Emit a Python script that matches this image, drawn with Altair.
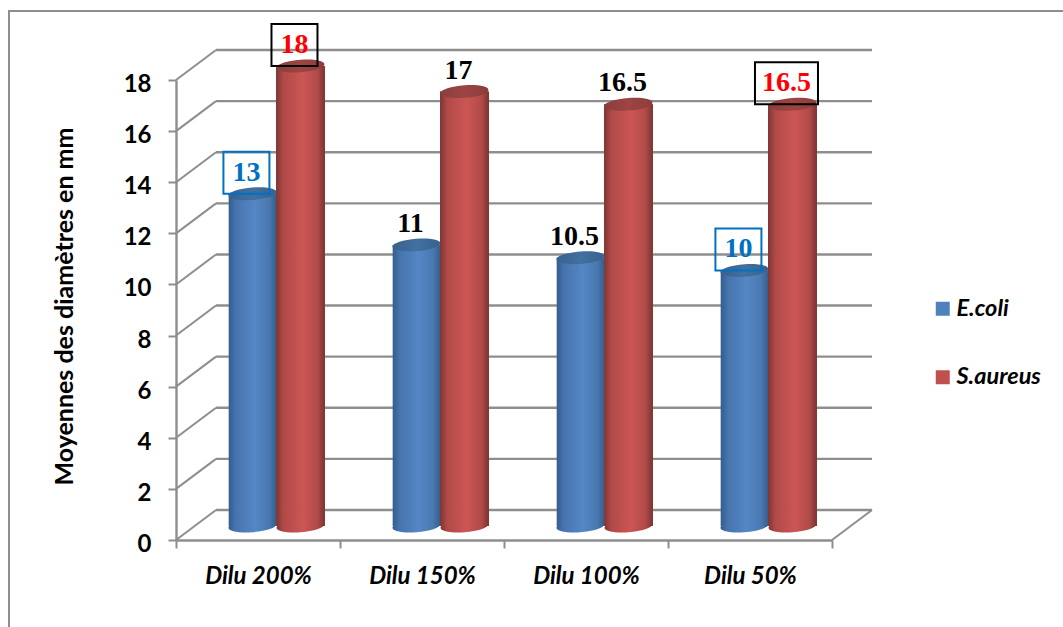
import altair as alt
import pandas as pd

# Chart values
categories = ["Dilu 200%", "Dilu 150%", "Dilu 100%", "Dilu 50%"]
ecoli = [13, 11, 10.5, 10]
saureus = [18, 17, 16.5, 16.5]
ecoli_boxed = [True, False, False, True]
saureus_boxed = [True, False, False, True]
y_ticks = [0, 2, 4, 6, 8, 10, 12, 14, 16, 18]

# Pixel scale of the plot frame
PX_X = 164.0     # pixels per category
PX_Y = 460 / 18  # pixels per mm
DEPTH_X = 40 / PX_X
DEPTH_Y = 30 / PX_Y
LIFT = 14 / PX_Y
BLUE = (0.322, 0.61)
RED = (0.61, 0.908)
FRAME = ((9 - 176) / PX_X, (1100 - 176) / PX_X, (540 - 11) / PX_Y, (540 - 660) / PX_Y)

SERIF = "Liberation Serif"
SANS = "Lato"
GRID = "#8e8e8e"


def gradient(stops):
    return alt.LinearGradient(
        gradient="linear", x1=0, x2=1, y1=0, y2=0,
        stops=[alt.GradientStop(offset=o, color=c) for o, c in stops],
    )


def ellipse_path(ry=0.26, tilt=0.07):
    # Slightly sheared ellipse built from cubic segments, in symbol units
    k = 0.5523
    pts = [
        (-1, 0), (-1, -k * ry), (-k, -ry), (0, -ry), (k, -ry), (1, -k * ry),
        (1, 0), (1, k * ry), (k, ry), (0, ry), (-k, ry), (-1, k * ry), (-1, 0),
    ]
    sh = [(x, y - tilt * x) for x, y in pts]
    d = f"M{sh[0][0]:.4f},{sh[0][1]:.4f}"
    for i in range(1, len(sh), 3):
        d += " C" + " ".join(f"{x:.4f},{y:.4f}" for x, y in sh[i:i + 3])
    return d + " Z"


ELLIPSE = ellipse_path()
SYMBOL_SIZE = 48 ** 2

side_blue = gradient([(0, "#335d8c"), (0.15, "#4674ae"), (0.55, "#5587c6"), (0.85, "#4a79b0"), (1, "#365f90")])
side_red = gradient([(0, "#7e3634"), (0.15, "#b04a48"), (0.55, "#cc5654"), (0.85, "#b04a48"), (1, "#7a3331")])
cap_blue = gradient([(0, "#38618f"), (0.5, "#42709f"), (1, "#38618f")])
cap_red = gradient([(0, "#8b3d3b"), (0.5, "#9c4543"), (1, "#8b3d3b")])

rows = []
for i, cat in enumerate(categories):
    for name, vals, boxed, (a, b) in (
        ("E.coli", ecoli, ecoli_boxed, BLUE),
        ("S.aureus", saureus, saureus_boxed, RED),
    ):
        v = vals[i]
        label = f"{v:g}"
        half_w = (31.5 if len(label) > 2 else 23) / PX_X
        mid = i + (a + b) / 2
        text_x = mid - 6 / PX_X
        text_y = v + LIFT + 21 / PX_Y
        rows.append(dict(
            category=cat, series=name, value=v, label=label, boxed=boxed[i],
            x0=i + a, x1=i + b, mid=mid, top=v + LIFT, base=LIFT,
            text_x=text_x, text_y=text_y,
            box_x0=text_x - half_w, box_x1=text_x + half_w,
            box_y0=text_y - 21 / PX_Y, box_y1=text_y + 21 / PX_Y,
        ))
bars = pd.DataFrame(rows)

x_scale = alt.Scale(domain=[0, 4], nice=False, zero=False)
y_scale = alt.Scale(domain=[0, 18], nice=False, zero=False)
X = lambda f: alt.X(f, type="quantitative", scale=x_scale)
Y = lambda f: alt.Y(f, type="quantitative", scale=y_scale)

label_names = "[" + ",".join(f"'{c}'" for c in categories) + "]"

# Outer chart border, running past the right and bottom edges of the canvas
frame = alt.Chart(pd.DataFrame([dict(x=FRAME[0], x2=FRAME[1], y=FRAME[2], y2=FRAME[3])])).mark_rect(
    fill="white", fillOpacity=0, stroke=GRID, strokeWidth=2
).encode(x=X("x"), x2="x2", y=Y("y"), y2="y2")

# Back wall lines and the oblique links to the front axis
wall = pd.DataFrame({"v": y_ticks})
wall["back"] = wall["v"] + DEPTH_Y
wall["x_a"] = DEPTH_X
wall["x_b"] = 4 + DEPTH_X
wall["x_0"] = 0.0
back_lines = alt.Chart(wall).mark_rule(color=GRID, strokeWidth=2.4).encode(
    x=X("x_a"), x2="x_b", y=Y("back")
)
side_lines = alt.Chart(wall).mark_rule(color=GRID, strokeWidth=2).encode(
    x=X("x_0"), x2="x_a", y=Y("v"), y2="back"
)
floor_edge = alt.Chart(pd.DataFrame([dict(x=4, x2=4 + DEPTH_X, y=0, y2=DEPTH_Y)])).mark_rule(
    color=GRID, strokeWidth=2
).encode(x=X("x"), x2="x2", y=Y("y"), y2="y2")

# Flat bars carry the axes and the legend; shaded cylinders are drawn over them
flat = alt.Chart(bars).mark_bar().encode(
    x=alt.X("x0:Q", scale=x_scale, title=None, axis=alt.Axis(
        values=[0, 1, 2, 3, 4], grid=False, domainColor=GRID, domainWidth=2.4,
        tickColor=GRID, tickWidth=2, tickSize=8, labelOffset=PX_X / 2, labelPadding=16,
        labelExpr=f"datum.value < 4 ? {label_names}[datum.value] : ''",
        labelFont=SANS, labelFontSize=24, labelFontWeight="bold", labelFontStyle="italic",
        labelColor="black", labelOverlap=False, labelBound=False, labelFlush=False,
    )),
    x2="x1:Q",
    y=alt.Y("top:Q", scale=y_scale, axis=alt.Axis(
        title="Moyennes des diamètres en mm", values=y_ticks, grid=False,
        domainColor=GRID, domainWidth=2.4, tickColor=GRID, tickWidth=2, tickSize=8,
        labelPadding=17, labelFont=SANS, labelFontSize=24, labelFontWeight="bold",
        labelColor="black", labelOverlap=False, labelOffset=4.5,
        titleFont=SANS, titleFontSize=25, titleFontWeight="bold", titleColor="black",
        titlePadding=46, titleY=226,
    )),
    y2="base:Q",
    color=alt.Color("series:N", scale=alt.Scale(domain=["E.coli", "S.aureus"], range=["#4F81BD", "#C0504D"]),
                    legend=alt.Legend(
                        title=None, orient="none", legendX=755, legendY=217,
                        symbolType="square", symbolSize=196, symbolStrokeWidth=0, rowPadding=43.5,
                        labelFont=SANS, labelFontSize=23.5, labelFontWeight="bold",
                        labelFontStyle="italic", labelColor="black", labelOffset=2,
                    )),
)


def cylinder(name, side, cap):
    d = bars[bars["series"] == name]
    base = alt.Chart(d)
    foot = base.mark_point(shape=ELLIPSE, size=SYMBOL_SIZE, filled=True, fill=side, opacity=1, strokeWidth=0).encode(
        x=X("mid"), y=Y("base")
    )
    body = base.mark_bar(fill=side).encode(x=X("x0"), x2="x1", y=Y("top"), y2="base")
    head = base.mark_point(shape=ELLIPSE, size=SYMBOL_SIZE, filled=True, fill=cap, opacity=1, strokeWidth=0).encode(
        x=X("mid"), y=Y("top")
    )
    return foot + body + head


blue_bars = cylinder("E.coli", side_blue, cap_blue)
red_bars = cylinder("S.aureus", side_red, cap_red)

# Value labels, with a box around the highlighted ones
plain = bars[~bars["boxed"]]
boxed_blue = bars[bars["boxed"] & (bars["series"] == "E.coli")]
boxed_red = bars[bars["boxed"] & (bars["series"] == "S.aureus")]


def box(d, stroke):
    return alt.Chart(d).mark_rect(fill="white", fillOpacity=0, stroke=stroke, strokeWidth=2).encode(
        x=X("box_x0"), x2="box_x1", y=Y("box_y0"), y2="box_y1"
    )


def value_text(d, color):
    return alt.Chart(d).mark_text(
        font=SERIF, fontWeight="bold", fontSize=28, color=color, align="center", baseline="middle"
    ).encode(x=X("text_x"), y=Y("text_y"), text="label:N")


chart = alt.layer(
    frame, back_lines, side_lines, floor_edge, flat,
    blue_bars, red_bars,
    box(boxed_blue, "#0070C0"), box(boxed_red, "#000000"),
    value_text(plain, "#000000"), value_text(boxed_blue, "#0070C0"), value_text(boxed_red, "#FF0000"),
).properties(
    width=656, height=460,
    padding={"left": 176, "top": 80, "right": 231, "bottom": 87},
    autosize=alt.AutoSizeParams(type="none"),
    background="white",
).configure_view(stroke=None)

chart.save("out.html", embed_options={"renderer": "svg", "actions": False})
